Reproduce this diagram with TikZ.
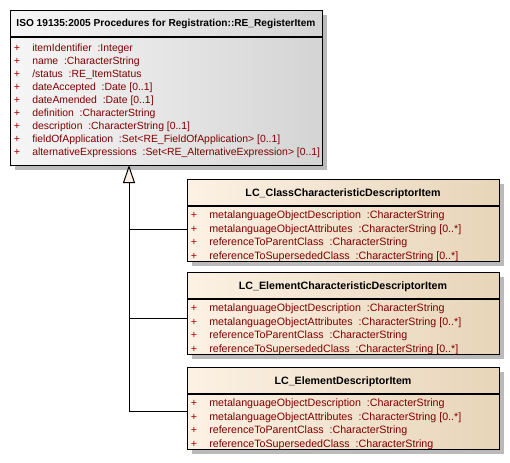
\documentclass[tikz,border=0pt]{standalone}
\usepackage{fontspec}
\setmainfont{Liberation Sans}
\usetikzlibrary{shadows,arrows.meta}

\definecolor{attrc}{RGB}{128,0,0}
\definecolor{plusc}{RGB}{165,0,0}
\definecolor{topl}{RGB}{246,246,246}
\definecolor{topr}{RGB}{212,212,212}
\definecolor{lcl}{RGB}{252,241,228}
\definecolor{lcr}{RGB}{231,213,185}
\definecolor{genfill}{RGB}{250,240,228}

\newcommand{\umlfont}{\fontsize{8}{10}\selectfont}
\newcommand{\regfont}{\fontsize{7.8}{10}\selectfont}
\newcommand{\regtitlefont}{\fontsize{7.6}{10}\selectfont}

\begin{document}
\begin{tikzpicture}[x=0.75pt,y=-0.75pt,
  classbox/.style={draw=black, line width=0.9pt, rectangle, inner sep=0pt,
    anchor=north west, minimum width=234pt,
    drop shadow={shadow xshift=3pt, shadow yshift=-3pt, fill=black!27, opacity=1}},
  regbox/.style={classbox, minimum height=116.25pt, left color=topl, right color=topr},
  lcbox/.style={classbox, minimum height=61.5pt, left color=lcl, right color=lcr},
  sepline/.style={draw=black, line width=0.9pt},
  title/.style={font=\umlfont\bfseries, inner sep=0pt},
  attr/.style={font=\umlfont, text=attrc, inner sep=0pt, anchor=base west},
  plus/.style={font=\umlfont, text=plusc, inner sep=0pt, anchor=base},
  genline/.style={draw=black, line width=0.75pt},
  genarrow/.style={genline, -{Triangle[length=13.5pt, width=9pt, fill=genfill]}}
]
\useasboundingbox (0,0) rectangle (510,462);

% ---- RE_RegisterItem ----
\node[regbox] (reg) at (10,10) {};
\draw[sepline] ([yshift=-20.25pt]reg.north west) -- ([yshift=-20.25pt]reg.north east);
\node[title, font=\regtitlefont\bfseries] (reg-t) at (166,23.5) {ISO 19135:2005 Procedures for Registration::RE\_RegisterItem};
\foreach \a [count=\i] in {
  {itemIdentifier~~:Integer},
  {name~~:CharacterString},
  {/status~~:RE\_ItemStatus},
  {dateAccepted~~:Date [0..1]},
  {dateAmended~~:Date [0..1]},
  {definition~~:CharacterString},
  {description~~:CharacterString [0..1]},
  {fieldOfApplication~~:Set<RE\_FieldOfApplication> [0..1]},
  {alternativeExpressions~~:Set<RE\_AlternativeExpression> [0..1]}} {
  \node[plus] (reg-p\i) at (17, 51.8+13*\i-13) {+};
  \node[attr, font=\regfont] (reg-a\i) at (32, 51.8+13*\i-13) {\a};
}

% ---- LC_ClassCharacteristicDescriptorItem ----
\node[lcbox] (c1) at (187,179) {};
\draw[sepline] ([yshift=-20.25pt]c1.north west) -- ([yshift=-20.25pt]c1.north east);
\node[title] (c1-t) at (343,193.5) {LC\_ClassCharacteristicDescriptorItem};
\foreach \a [count=\i] in {
  {metalanguageObjectDescription~~:CharacterString},
  {metalanguageObjectAttributes~~:CharacterString [0..*]},
  {referenceToParentClass~~:CharacterString},
  {referenceToSupersededClass~~:CharacterString [0..*]}} {
  \node[plus] (c1-p\i) at (194, 218.8+13.5*\i-13.5) {+};
  \node[attr] (c1-a\i) at (209, 218.8+13.5*\i-13.5) {\a};
}

% ---- LC_ElementCharacteristicDescriptorItem ----
\node[lcbox] (c2) at (187,272) {};
\draw[sepline] ([yshift=-20.25pt]c2.north west) -- ([yshift=-20.25pt]c2.north east);
\node[title] (c2-t) at (343,286.5) {LC\_ElementCharacteristicDescriptorItem};
\foreach \a [count=\i] in {
  {metalanguageObjectDescription~~:CharacterString},
  {metalanguageObjectAttributes~~:CharacterString [0..*]},
  {referenceToParentClass~~:CharacterString},
  {referenceToSupersededClass~~:CharacterString [0..*]}} {
  \node[plus] (c2-p\i) at (194, 311.8+13.5*\i-13.5) {+};
  \node[attr] (c2-a\i) at (209, 311.8+13.5*\i-13.5) {\a};
}

% ---- LC_ElementDescriptorItem ----
\node[lcbox] (c3) at (187,367) {};
\draw[sepline] ([yshift=-20.25pt]c3.north west) -- ([yshift=-20.25pt]c3.north east);
\node[title] (c3-t) at (343,381.5) {LC\_ElementDescriptorItem};
\foreach \a [count=\i] in {
  {metalanguageObjectDescription~~:CharacterString},
  {metalanguageObjectAttributes~~:CharacterString [0..*]},
  {referenceToParentClass~~:CharacterString},
  {referenceToSupersededClass~~:CharacterString}} {
  \node[plus] (c3-p\i) at (194, 406.8+13.5*\i-13.5) {+};
  \node[attr] (c3-a\i) at (209, 406.8+13.5*\i-13.5) {\a};
}

% ---- generalization tree ----
\coordinate (apex) at (129,165);
\coordinate (g1) at (187,229);
\coordinate (g2) at (187,318);
\coordinate (g3) at (187,411);
\draw[genline] (g1) -- (g1 -| apex);
\draw[genline] (g2) -- (g2 -| apex);
\draw[genarrow] (g3) -| (apex);
\end{tikzpicture}
\end{document}
